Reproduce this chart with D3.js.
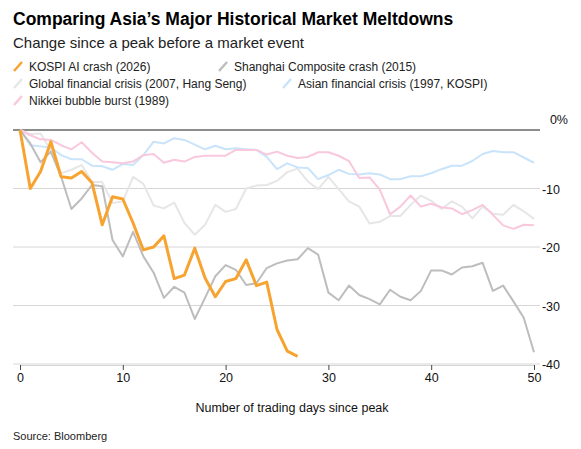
<!DOCTYPE html><html><head><meta charset="utf-8"><script src="https://cdn.jsdelivr.net/npm/d3@7"></script>
<style>body{margin:0;background:#fff;font-family:"Liberation Sans",Arial,sans-serif}</style></head><body><svg id="c" width="581" height="449"></svg>
<script>
const seriesNames=["KOSPI AI crash (2026)","Shanghai Composite crash (2015)","Global financial crisis (2007, Hang Seng)","Asian financial crisis (1997, KOSPI)","Nikkei bubble burst (1989)"];
const colors=["#f7a330","#bdbdbd","#e6e6e6","#c9e4fa","#f9c8dd"];
const kospi=[0,-10,-7.1,-2,-8,-8.2,-7.1,-9,-16.2,-11.4,-11.8,-15.9,-20.5,-20,-18.1,-25.4,-24.8,-20.2,-25.3,-28.5,-25.9,-25.4,-22.2,-26.6,-26,-34.1,-37.8,-38.7];
const shanghai=[0,-2.3,-5.5,-3.7,-8,-13.5,-11.7,-9.4,-9.6,-18.8,-21.6,-17.4,-21.6,-24.4,-28.7,-26.8,-27.8,-32.3,-28.7,-25,-23.1,-23.9,-26.5,-26.2,-23.6,-22.8,-22.3,-22.1,-20.2,-21.3,-27.8,-29.1,-26.6,-28.2,-28.9,-29.8,-27.3,-28.5,-29.1,-27.5,-24,-24,-24.7,-23.5,-23.3,-22.7,-27.5,-26.6,-29.3,-32.1,-38];
const gfc=[0,-0.7,-0.6,-3.5,-7.4,-6.8,-6,-8.9,-8.9,-12.5,-12.2,-8,-9.2,-12.9,-13.4,-12.4,-15.9,-17.9,-16.2,-12.8,-14,-13.5,-10,-9.5,-9.4,-8.7,-7.2,-6.6,-8.8,-10.1,-8,-10.1,-12.2,-13.1,-16,-15.7,-14.7,-14.7,-12.8,-11.2,-12.1,-13.5,-12.2,-13.1,-15.1,-13.1,-14.3,-14.5,-12.8,-13.9,-15.2];
const asian=[0,-2.6,-2.8,-3,-4.3,-5,-5,-6.1,-6.2,-6.8,-5.8,-6,-4.3,-2,-2.3,-1.4,-1.7,-2.5,-3.3,-2.7,-3.3,-3.1,-3.3,-3.4,-4.6,-6.7,-5.7,-6.4,-6.5,-8.4,-7.7,-6.8,-7.5,-7.6,-7.4,-7.6,-8.4,-8.4,-7.9,-7.9,-7.4,-6.7,-6.1,-6.1,-5.3,-4.1,-3.6,-3.8,-3.8,-4.7,-5.6];
const nikkei=[0,-0.9,-1.6,-1.7,-2.6,-3.3,-2.1,-3.9,-5.4,-5.5,-5.7,-5.4,-4.3,-4.1,-5.6,-5.1,-5.4,-4.6,-4.4,-4.4,-4.4,-3.4,-3.4,-3.4,-4.2,-3.7,-4.4,-4.8,-4.6,-3.8,-3.8,-4.4,-5.3,-8.2,-8.1,-10.2,-14.4,-13.1,-11.2,-13.1,-12.6,-13.2,-13.4,-14.4,-13.7,-12.8,-14.5,-16.3,-16.9,-16.2,-16.3];
const yTicks=[0,-10,-20,-30,-40];
const xTicks=[0,10,20,30,40,50];
const svg=d3.select("#c");
const x=d3.scaleLinear().domain([0,50]).range([20,534]);
const y=d3.scaleLinear().domain([0,-40]).range([130,364]);
svg.append("text").attr("x",13).attr("y",25).attr("font-size",17.5).attr("font-weight","bold").attr("fill","#000").text("Comparing Asia’s Major Historical Market Meltdowns");
svg.append("text").attr("x",13).attr("y",48).attr("font-size",15).attr("fill","#222").text("Change since a peak before a market event");
const leg=[[13,68],[218,68],[13,85],[282,85],[13,102]];
seriesNames.forEach((n,i)=>{const [lx,ly]=leg[i];
 svg.append("line").attr("x1",lx+1).attr("y1",ly+3).attr("x2",lx+9).attr("y2",ly-6).attr("stroke",colors[i]).attr("stroke-width",2.5);
 svg.append("text").attr("x",lx+16).attr("y",ly+3).attr("font-size",12).attr("fill","#222").text(n);});
yTicks.forEach(t=>{
 svg.append("line").attr("x1",13).attr("x2",540).attr("y1",y(t)).attr("y2",y(t)).attr("stroke",t===0?"#666":"#d6d6d6").attr("stroke-width",t===0?1.5:1);
 svg.append("text").attr("x",t===0?568:560).attr("y",t===0?y(t)-6:y(t)+5).attr("text-anchor","end").attr("font-size",12.5).attr("fill","#111").text(t===0?"0%":t);
});
const xa=svg.append("g").attr("transform","translate(0,365)").call(d3.axisBottom(x).tickValues(xTicks).tickSize(5).tickFormat(d3.format("d")));
xa.select(".domain").attr("stroke","#d6d6d6");
xa.selectAll(".tick line").attr("stroke","#444");
xa.selectAll("text").attr("font-size",12.5).attr("fill","#111").attr("font-family","Liberation Sans, Arial");
const line=d3.line().x((d,i)=>x(i)).y(d=>y(d));
const data=[kospi,shanghai,gfc,asian,nikkei];
[2,3,4,1,0].forEach(i=>svg.append("path").datum(data[i]).attr("d",line).attr("fill","none").attr("stroke",colors[i]).attr("stroke-width",i===0?3:2).attr("stroke-linejoin","round"));
svg.append("text").attr("x",292).attr("y",412).attr("text-anchor","middle").attr("font-size",12.5).attr("fill","#111").text("Number of trading days since peak");
svg.append("text").attr("x",13).attr("y",440).attr("font-size",11).attr("fill","#222").text("Source: Bloomberg");
</script></body></html>
